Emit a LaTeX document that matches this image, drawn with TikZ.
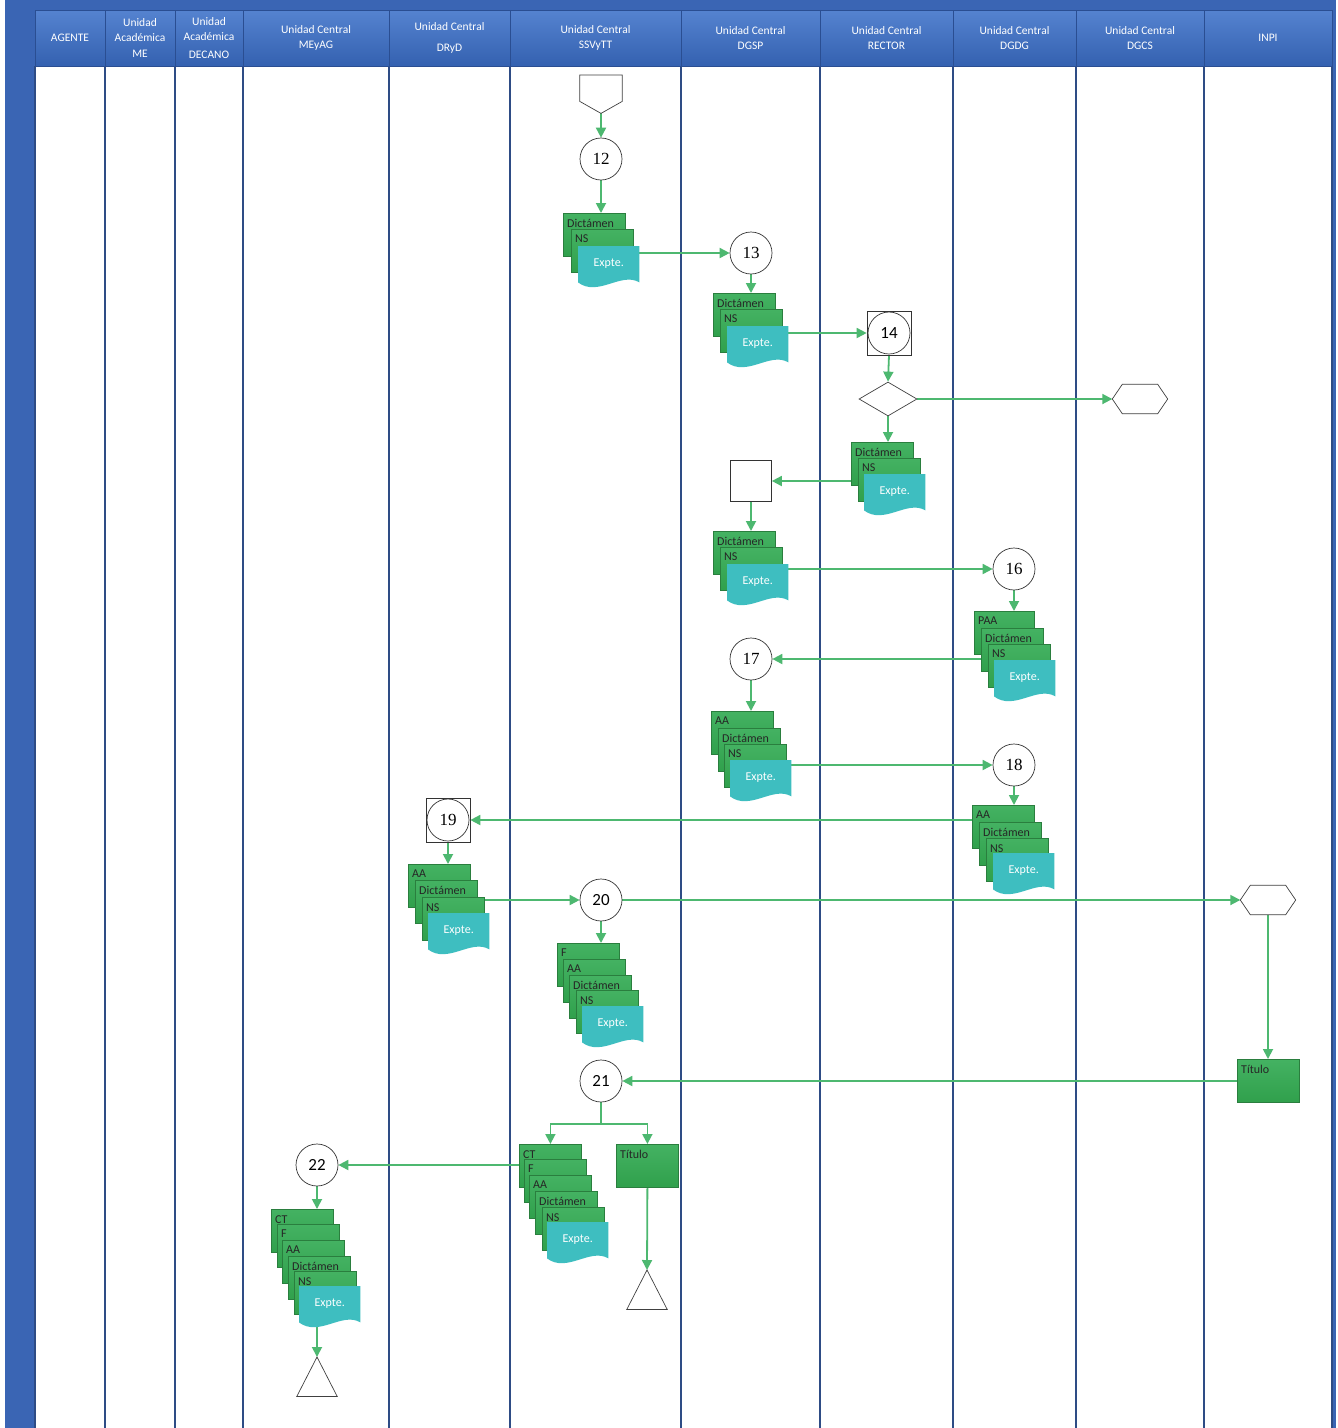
\documentclass[tikz,border=0pt]{standalone}
\usepackage{fontspec}
\setmainfont{Carlito}
\newfontfamily\numserif{Liberation Serif}
\usetikzlibrary{arrows.meta,shapes.geometric,calc}
\pgfdeclarelayer{lanes}
\pgfdeclarelayer{links}
\pgfsetlayers{lanes,links,main}

\definecolor{frameblue}{HTML}{3A65B4}
\definecolor{headtop}{HTML}{5583D0}
\definecolor{headbot}{HTML}{3461B0}
\definecolor{headedge}{HTML}{2A4E92}
\definecolor{laneblue}{HTML}{2E4C85}
\definecolor{flowgreen}{HTML}{4DB870}
\definecolor{docgreen}{HTML}{30A04C}
\definecolor{docgreentop}{HTML}{44B262}
\definecolor{docedge}{HTML}{2A7E3E}
\definecolor{expteteal}{HTML}{3EBEC0}

\tikzset{
  flow/.style={draw=flowgreen, line width=1.8pt, -{Triangle[length=10pt,width=10pt]}},
  flowplain/.style={draw=flowgreen, line width=1.8pt},
  headcell/.style={rectangle, draw=headedge, line width=0.8pt, top color=headtop,
    bottom color=headbot, minimum height=56pt, inner sep=0pt, text=white,
    align=center, font=\fontsize{11.5}{15}\selectfont},
  laneline/.style={draw=laneblue, line width=1.6pt},
  stepcircle/.style={circle, draw=black!80, line width=0.7pt, fill=white,
    minimum size=42pt, inner sep=0pt, font=\fontsize{17}{17}\selectfont},
  serifnum/.style={font=\numserif\fontsize{17}{17}\selectfont},
  stepbox/.style={rectangle, draw=black!80, line width=0.7pt, fill=white,
    minimum size=44pt, inner sep=0pt},
  gdoc/.style={rectangle, draw=docedge, line width=0.8pt, top color=docgreentop,
    bottom color=docgreen, minimum height=43pt, anchor=north west, inner sep=0pt},
  gtext/.style={anchor=north west, inner sep=0pt, text=black!85,
    font=\fontsize{12}{12}\selectfont},
  tdoc/.style={rectangle, minimum height=36pt, anchor=north west, inner sep=0pt},
  ttext/.style={text=white, inner sep=0pt, font=\fontsize{12}{12}\selectfont},
  outline/.style={draw=black!75, line width=0.7pt, fill=white},
}

% green document layer: [width] name, x, y (top-left), label
\newcommand\glayer[5][62]{%
  \node[gdoc, minimum width=#1pt] (#2) at (#3,#4) {};
  \node[gtext] (#2t) at ($(#2.north west)+(4,6)$) {#5};}
% teal "Expte." document with wavy bottom: [width] name, x, y (top-left)
\newcommand\expte[4][61]{%
  \node[tdoc, minimum width=#1pt] (#2) at (#3,#4) {};
  \fill[expteteal] (#2.north west) -- (#2.north east) -- (#2.south east)
    .. controls +(-18,-11) and +(20,15) .. (#2.south west) -- cycle;
  \node[ttext] (#2t) at ($(#2.center)+(0,-1)$) {Expte.};}
% hexagon: name, x, y (centre)
\newcommand\hexa[3]{%
  \node[rectangle, minimum width=55pt, minimum height=29pt, inner sep=0pt] (#1) at (#2,#3) {};
  \draw[outline] (#1.west) -- ($(#1.north west)+(10,0)$) -- ($(#1.north east)+(-10,0)$)
    -- (#1.east) -- ($(#1.south east)+(-10,0)$) -- ($(#1.south west)+(10,0)$) -- cycle;}
% terminal triangle: name, x, y (apex)
\newcommand\stoptri[3]{%
  \node[rectangle, minimum width=40pt, minimum height=39pt, inner sep=0pt, anchor=north] (#1) at (#2,#3) {};
  \draw[outline] (#1.north) -- (#1.south east) -- (#1.south west) -- cycle;}

\begin{document}
\begin{tikzpicture}[x=1pt,y=-1pt]
\useasboundingbox (0,0) rectangle (1338,1428);

% frame and swimlanes
\begin{pgfonlayer}{lanes}
  \fill[frameblue] (5,0) rectangle (1336,1428);
  \fill[white] (35,66) rectangle (1332,1428);
  \foreach \lx in {35,105,175,243,389,510,681,820,953,1076,1204,1332}
    \draw[laneline] (\lx,66) -- (\lx,1428);
\end{pgfonlayer}

% lane headers
\node[headcell, minimum width=70pt]  (hAgente) at (70,38)   {AGENTE};
\node[headcell, minimum width=70pt, font=\fontsize{11.5}{15.5}\selectfont]
  (hMe) at (140,38) {Unidad\\Académica\\ME};
\node[headcell, minimum width=68pt]  (hDecano) at (209,38)  {Unidad\\Académica\\[3pt]DECANO};
\node[headcell, minimum width=146pt] (hMeyag) at (316,38)   {Unidad Central\\MEyAG};
\node[headcell, minimum width=121pt] (hDryd) at (449.5,38)  {Unidad Central\\[6pt]DRyD};
\node[headcell, minimum width=171pt] (hSsv) at (595.5,38)   {Unidad Central\\SSVyTT};
\node[headcell, minimum width=139pt] (hDgsp) at (750.5,38)  {Unidad Central\\DGSP};
\node[headcell, minimum width=133pt] (hRector) at (886.5,38){Unidad Central\\RECTOR};
\node[headcell, minimum width=123pt] (hDgdg) at (1014.5,38) {Unidad Central\\DGDG};
\node[headcell, minimum width=128pt] (hDgcs) at (1140,38)   {Unidad Central\\DGCS};
\node[headcell, minimum width=128pt] (hInpi) at (1268,38)   {INPI};

% off-page start
\node[rectangle, minimum width=42pt, minimum height=26pt, inner sep=0pt, anchor=north] (off) at (601,75) {};
\draw[outline] (off.north west) -- (off.north east) -- (off.south east)
  -- ($(off.south)+(0,12)$) -- (off.south west) -- cycle;
\coordinate (offtip) at ($(off.south)+(0,12)$);

% steps
\node[stepcircle, serifnum] (c12) at (601,159) {12};
\node[stepcircle, serifnum] (c13) at (751,253) {13};
\node[stepbox] (s14) at (889,333) {};
\node[stepcircle] (c14) at (889,333) {14};
\node[diamond, draw=black!75, line width=0.7pt, fill=white, inner sep=0pt,
      minimum width=58pt, minimum height=34pt] (dia) at (888,399) {};
\hexa{hx1}{1140}{399}
\node[stepbox, minimum size=41pt] (sq15) at (751,481) {};
\node[stepcircle, serifnum] (c16) at (1014,569) {16};
\node[stepcircle, serifnum] (c17) at (751,659) {17};
\node[stepcircle, serifnum] (c18) at (1014,765) {18};
\node[stepbox] (s19) at (448,820) {};
\node[stepcircle, serifnum] (c19) at (448,820) {19};
\node[stepcircle] (c20) at (601,900) {20};
\hexa{hx2}{1268}{900}
\node[stepcircle] (c21) at (601,1081) {21};
\node[stepcircle] (c22) at (317,1165) {22};

% document stacks
\glayer{A1}{563}{213}{Dictámen}
\glayer{A2}{571}{229}{NS}
\expte{A3}{578}{246}

\glayer{B1}{713}{293}{Dictámen}
\glayer{B2}{720}{309}{NS}
\expte{B3}{727}{326}

\glayer{C1}{851}{442}{Dictámen}
\glayer{C2}{858}{458}{NS}
\expte{C3}{864}{474}

\glayer{D1}{713}{531}{Dictámen}
\glayer{D2}{720}{547}{NS}
\expte{D3}{727}{564}

\glayer[60]{E1}{974}{611}{PAA}
\glayer[62]{E2}{981}{628}{Dictámen}
\glayer[62]{E3}{988}{644}{NS}
\expte{E4}{994}{660}

\glayer{F1}{711}{711}{AA}
\glayer{F2}{718}{728}{Dictámen}
\glayer{F3}{724}{744}{NS}
\expte{F4}{730}{760}

\glayer{G1}{972}{805}{AA}
\glayer{G2}{979}{822}{Dictámen}
\glayer{G3}{986}{838}{NS}
\expte{G4}{993}{853}

\glayer{H1}{408}{864}{AA}
\glayer{H2}{415}{880}{Dictámen}
\glayer{H3}{422}{897}{NS}
\expte{H4}{428}{913}

\glayer{I1}{557}{943}{F}
\glayer{I2}{563}{959}{AA}
\glayer{I3}{569}{975}{Dictámen}
\glayer{I4}{576}{990}{NS}
\expte{I5}{582}{1006}

\glayer{J1}{519}{1144}{CT}
\glayer{J2}{524}{1159}{F}
\glayer{J3}{529}{1175}{AA}
\glayer{J4}{535}{1191}{Dictámen}
\glayer{J5}{542}{1207}{NS}
\expte{J6}{547}{1222}

\glayer{K1}{271}{1209}{CT}
\glayer{K2}{277}{1224}{F}
\glayer{K3}{282}{1240}{AA}
\glayer{K4}{288}{1256}{Dictámen}
\glayer{K5}{294}{1271}{NS}
\expte{K6}{299}{1286}

% title documents and ends
\glayer{tit1}{1237}{1059}{Título}
\glayer{tit2}{616}{1144}{Título}
\stoptri{tri1}{647}{1270}
\stoptri{tri2}{317}{1357}

% connectors
\begin{pgfonlayer}{links}
  \draw[flow] (offtip) -- (c12.north);
  \draw[flow] (c12.south) -- (c12.south |- A1.north);
  \draw[flow] (c13.west -| A3.east) -- (c13.west);
  \draw[flow] (c13.south) -- (c13.south |- B1.north);
  \draw[flow] (s14.west -| B3.east) -- (s14.west);
  \draw[flow] (s14.south) -- (dia.north);
  \draw[flow] (dia.east) -- (hx1.west);
  \draw[flow] (dia.south) -- (dia.south |- C1.north);
  \draw[flow] (sq15.east -| C1.west) -- (sq15.east);
  \draw[flow] (sq15.south) -- (sq15.south |- D1.north);
  \draw[flow] (c16.west -| D3.east) -- (c16.west);
  \draw[flow] (c16.south) -- (c16.south |- E1.north);
  \draw[flow] (c17.east -| E2.west) -- (c17.east);
  \draw[flow] (c17.south) -- (c17.south |- F1.north);
  \draw[flow] (c18.west -| F4.east) -- (c18.west);
  \draw[flow] (c18.south) -- (c18.south |- G1.north);
  \draw[flow] (s19.east -| G1.west) -- (s19.east);
  \draw[flow] (s19.south) -- (s19.south |- H1.north);
  \draw[flow] (c20.west -| H3.east) -- (c20.west);
  \draw[flow] (c20.east) -- (c20.east -| hx2.west);
  \draw[flow] (c20.south) -- (c20.south |- I1.north);
  \draw[flow] (hx2.south) -- (hx2.south |- tit1.north);
  \draw[flow] (c21.east -| tit1.west) -- (c21.east);
  \coordinate (br) at ($(c21.south)+(0,22)$);
  \draw[flowplain] (c21.south) -- (br);
  \draw[flow] (br) -| (J1.north);
  \draw[flow] (br) -| (tit2.north);
  \draw[flow] (tit2.south) -- (tri1.north);
  \draw[flow] (c22.east -| J1.west) -- (c22.east);
  \draw[flow] (c22.south) -- (c22.south |- K1.north);
  \draw[flow] (tri2.north |- K6.south) -- (tri2.north);
\end{pgfonlayer}
\end{tikzpicture}
\end{document}
